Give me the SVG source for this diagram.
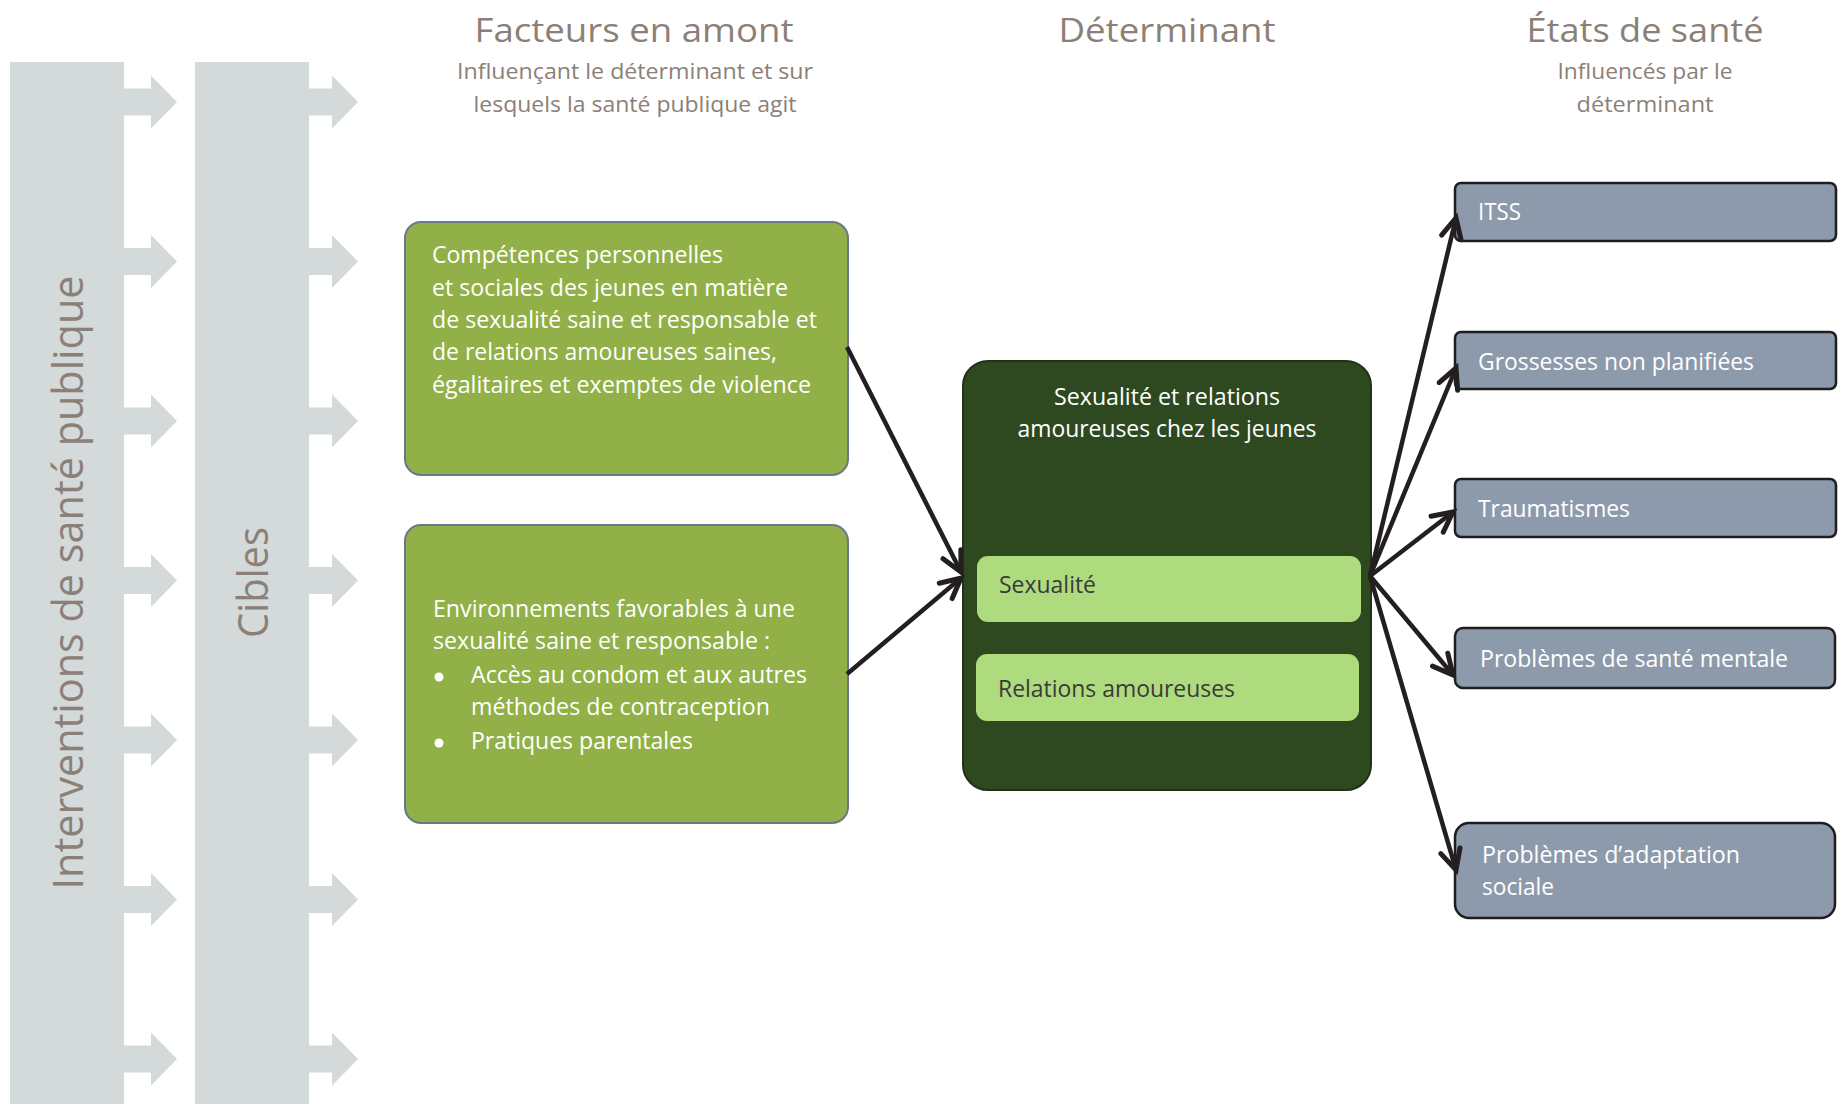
<svg xmlns="http://www.w3.org/2000/svg" width="1839" height="1104" viewBox="0 0 1839 1104">
  <style>
    .band { fill: #D4D9D9; }
    .band-label { font-family: "Open Sans", "Liberation Sans", sans-serif; font-size: 42px; fill: #8B8077; }
    .head { font-family: "Open Sans", "Liberation Sans", sans-serif; font-size: 32px; fill: #8B8077; text-anchor: middle; }
    .sub { font-family: "Open Sans", "Liberation Sans", sans-serif; font-size: 21px; fill: #8B8077; text-anchor: middle; }
    .factor { fill: #91B047; stroke: #6B7888; stroke-width: 2; }
    .wtext { font-family: "Open Sans", "Liberation Sans", sans-serif; font-size: 24px; fill: #FFFFFF; }
    .det { fill: #2E4920; stroke: #1F3316; stroke-width: 2; }
    .sub-det { fill: #AEDB7D; }
    .dtext { font-family: "Open Sans", "Liberation Sans", sans-serif; font-size: 24.5px; fill: #3A3A3A; }
    .state { fill: #8D9AAB; stroke: #1E1E1E; stroke-width: 2.5; }
    .link { fill: none; stroke: #231F20; stroke-width: 4.5; marker-end: url(#arrow); }
  </style>
  <defs>
    <marker id="arrow" markerUnits="userSpaceOnUse" markerWidth="30" markerHeight="30" viewBox="0 0 30 30" refX="25" refY="15" orient="auto" overflow="visible">
      <path d="M5,5 L25,15 L5,25" fill="none" stroke="#231F20" stroke-width="5" stroke-linecap="round" stroke-linejoin="miter"/>
    </marker>
    <g id="chev">
      <rect x="0" y="-13.5" width="28" height="27"/>
      <polygon points="27,-26.5 53,0 27,26.5"/>
    </g>
  </defs>

  <!-- Left bands with their chevrons -->
  <g id="band-interventions" class="band">
    <rect x="10" y="62" width="114" height="1042"/>
    <use href="#chev" x="124" y="102"/>
    <use href="#chev" x="124" y="261.5"/>
    <use href="#chev" x="124" y="421"/>
    <use href="#chev" x="124" y="580.5"/>
    <use href="#chev" x="124" y="740"/>
    <use href="#chev" x="124" y="899.5"/>
    <use href="#chev" x="124" y="1059"/>
    <text class="band-label" transform="translate(83 582.5) rotate(-90)" text-anchor="middle" textLength="614" lengthAdjust="spacingAndGlyphs">Interventions de santé publique</text>
  </g>
  <g id="band-cibles" class="band">
    <rect x="195" y="62" width="114" height="1042"/>
    <use href="#chev" x="305" y="102"/>
    <use href="#chev" x="305" y="261.5"/>
    <use href="#chev" x="305" y="421"/>
    <use href="#chev" x="305" y="580.5"/>
    <use href="#chev" x="305" y="740"/>
    <use href="#chev" x="305" y="899.5"/>
    <use href="#chev" x="305" y="1059"/>
    <text class="band-label" transform="translate(268 582.5) rotate(-90)" text-anchor="middle" textLength="111" lengthAdjust="spacingAndGlyphs">Cibles</text>
  </g>

  <!-- Column headings -->
  <g id="headings">
    <text class="head" x="634" y="42" textLength="319" lengthAdjust="spacingAndGlyphs">Facteurs en amont</text>
    <text class="sub" x="635" y="79" textLength="356" lengthAdjust="spacingAndGlyphs">Influençant le déterminant et sur</text>
    <text class="sub" x="635" y="112" textLength="323" lengthAdjust="spacingAndGlyphs">lesquels la santé publique agit</text>
    <text class="head" x="1167" y="42" textLength="217" lengthAdjust="spacingAndGlyphs">Déterminant</text>
    <text class="head" x="1645" y="42" textLength="237" lengthAdjust="spacingAndGlyphs">États de santé</text>
    <text class="sub" x="1645" y="79" textLength="175" lengthAdjust="spacingAndGlyphs">Influencés par le</text>
    <text class="sub" x="1645" y="112" textLength="137" lengthAdjust="spacingAndGlyphs">déterminant</text>
  </g>

  <!-- Upstream factors -->
  <g id="factor-competences">
    <rect class="factor" x="405" y="222" width="443" height="253" rx="16"/>
    <text class="wtext" x="432" y="263" textLength="291" lengthAdjust="spacingAndGlyphs">Compétences personnelles</text>
    <text class="wtext" x="432" y="296" textLength="356" lengthAdjust="spacingAndGlyphs">et sociales des jeunes en matière</text>
    <text class="wtext" x="432" y="328" textLength="385" lengthAdjust="spacingAndGlyphs">de sexualité saine et responsable et</text>
    <text class="wtext" x="432" y="360" textLength="345" lengthAdjust="spacingAndGlyphs">de relations amoureuses saines,</text>
    <text class="wtext" x="432" y="393" textLength="379" lengthAdjust="spacingAndGlyphs">égalitaires et exemptes de violence</text>
  </g>
  <g id="factor-environnements">
    <rect class="factor" x="405" y="525" width="443" height="298" rx="16"/>
    <text class="wtext" x="433" y="617" textLength="362" lengthAdjust="spacingAndGlyphs">Environnements favorables à une</text>
    <text class="wtext" x="433" y="649" textLength="337" lengthAdjust="spacingAndGlyphs">sexualité saine et responsable :</text>
    <circle cx="439" cy="677" r="4.5" fill="#FFFFFF"/>
    <text class="wtext" x="471" y="683" textLength="336" lengthAdjust="spacingAndGlyphs">Accès au condom et aux autres</text>
    <text class="wtext" x="471" y="715" textLength="299" lengthAdjust="spacingAndGlyphs">méthodes de contraception</text>
    <circle cx="439" cy="743" r="4.5" fill="#FFFFFF"/>
    <text class="wtext" x="471" y="749" textLength="222" lengthAdjust="spacingAndGlyphs">Pratiques parentales</text>
  </g>

  <!-- Determinant -->
  <g id="determinant">
    <rect class="det" x="963" y="361" width="408" height="429" rx="25"/>
    <text class="wtext" x="1167" y="405" text-anchor="middle" textLength="226" lengthAdjust="spacingAndGlyphs">Sexualité et relations</text>
    <text class="wtext" x="1167" y="437" text-anchor="middle" textLength="299" lengthAdjust="spacingAndGlyphs">amoureuses chez les jeunes</text>
  </g>
  <g id="det-sexualite">
    <rect class="sub-det" x="977" y="556" width="384" height="66" rx="11"/>
    <text class="dtext" x="999" y="593" textLength="97" lengthAdjust="spacingAndGlyphs">Sexualité</text>
  </g>
  <g id="det-relations">
    <rect class="sub-det" x="976" y="654" width="383" height="67" rx="11"/>
    <text class="dtext" x="998" y="697" textLength="237" lengthAdjust="spacingAndGlyphs">Relations amoureuses</text>
  </g>

  <!-- Health states -->
  <g id="state-itss">
    <rect class="state" x="1455" y="183" width="381" height="58" rx="6"/>
    <text class="wtext" x="1478" y="220" textLength="43" lengthAdjust="spacingAndGlyphs">ITSS</text>
  </g>
  <g id="state-grossesses">
    <rect class="state" x="1455" y="332" width="381" height="57" rx="6"/>
    <text class="wtext" x="1478" y="370" textLength="276" lengthAdjust="spacingAndGlyphs">Grossesses non planifiées</text>
  </g>
  <g id="state-traumatismes">
    <rect class="state" x="1455" y="479" width="381" height="58" rx="6"/>
    <text class="wtext" x="1478" y="517" textLength="152" lengthAdjust="spacingAndGlyphs">Traumatismes</text>
  </g>
  <g id="state-sante-mentale">
    <rect class="state" x="1455" y="628" width="380" height="60" rx="8"/>
    <text class="wtext" x="1480" y="667" textLength="308" lengthAdjust="spacingAndGlyphs">Problèmes de santé mentale</text>
  </g>
  <g id="state-adaptation">
    <rect class="state" x="1455" y="823" width="380" height="95" rx="14"/>
    <text class="wtext" x="1482" y="863" textLength="258" lengthAdjust="spacingAndGlyphs">Problèmes d’adaptation</text>
    <text class="wtext" x="1482" y="895" textLength="72" lengthAdjust="spacingAndGlyphs">sociale</text>
  </g>

  <!-- Connectors -->
  <g id="connectors">
    <line class="link" x1="847" y1="347" x2="961" y2="572"/>
    <line class="link" x1="847" y1="674" x2="961" y2="578"/>
    <line class="link" x1="1370" y1="576" x2="1456" y2="218"/>
    <line class="link" x1="1370" y1="576" x2="1456" y2="368"/>
    <line class="link" x1="1370" y1="576" x2="1453" y2="512"/>
    <line class="link" x1="1370" y1="576" x2="1453" y2="675"/>
    <line class="link" x1="1370" y1="576" x2="1456" y2="870"/>
  </g>
</svg>
